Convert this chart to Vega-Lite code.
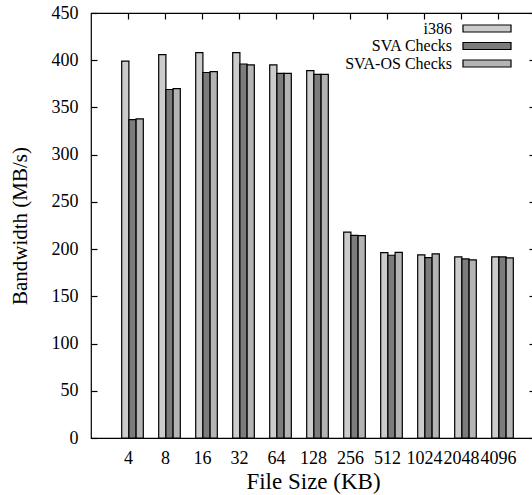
{
  "$schema": "https://vega.github.io/schema/vega-lite/v6.json",
  "autosize": {"type": "none"},
  "padding": {"left": 91, "top": 13, "right": 0, "bottom": 57},
  "width": 444,
  "height": 425,
  "background": "white",
  "config": {
    "font": "Liberation Serif",
    "view": {"stroke": "black", "strokeWidth": 1.2},
    "axis": {
      "labelFont": "Liberation Serif",
      "titleFont": "Liberation Serif",
      "labelFontSize": 18,
      "titleFontSize": 21,
      "titleFontWeight": "normal",
      "labelColor": "black",
      "titleColor": "black",
      "tickColor": "black",
      "tickWidth": 1.2,
      "domain": false,
      "grid": false
    }
  },
  "data": {
    "values": [
      {"size": "4", "series": "i386", "bw": 399},
      {"size": "4", "series": "SVA Checks", "bw": 337},
      {"size": "4", "series": "SVA-OS Checks", "bw": 338},
      {"size": "8", "series": "i386", "bw": 406},
      {"size": "8", "series": "SVA Checks", "bw": 369},
      {"size": "8", "series": "SVA-OS Checks", "bw": 370},
      {"size": "16", "series": "i386", "bw": 408},
      {"size": "16", "series": "SVA Checks", "bw": 387},
      {"size": "16", "series": "SVA-OS Checks", "bw": 388},
      {"size": "32", "series": "i386", "bw": 408},
      {"size": "32", "series": "SVA Checks", "bw": 396},
      {"size": "32", "series": "SVA-OS Checks", "bw": 395},
      {"size": "64", "series": "i386", "bw": 395},
      {"size": "64", "series": "SVA Checks", "bw": 386},
      {"size": "64", "series": "SVA-OS Checks", "bw": 386},
      {"size": "128", "series": "i386", "bw": 389},
      {"size": "128", "series": "SVA Checks", "bw": 385},
      {"size": "128", "series": "SVA-OS Checks", "bw": 385},
      {"size": "256", "series": "i386", "bw": 218},
      {"size": "256", "series": "SVA Checks", "bw": 214.5},
      {"size": "256", "series": "SVA-OS Checks", "bw": 214.3},
      {"size": "512", "series": "i386", "bw": 196.3},
      {"size": "512", "series": "SVA Checks", "bw": 193.5},
      {"size": "512", "series": "SVA-OS Checks", "bw": 196.6},
      {"size": "1024", "series": "i386", "bw": 194},
      {"size": "1024", "series": "SVA Checks", "bw": 191},
      {"size": "1024", "series": "SVA-OS Checks", "bw": 195},
      {"size": "2048", "series": "i386", "bw": 191.7},
      {"size": "2048", "series": "SVA Checks", "bw": 189.6},
      {"size": "2048", "series": "SVA-OS Checks", "bw": 188.6},
      {"size": "4096", "series": "i386", "bw": 191.7},
      {"size": "4096", "series": "SVA Checks", "bw": 191.7},
      {"size": "4096", "series": "SVA-OS Checks", "bw": 190.7}
    ]
  },
  "resolve": {"axis": {"x": "independent", "y": "independent"}},
  "layer": [
    {
      "mark": {"type": "bar", "stroke": "black", "strokeWidth": 1.2},
      "encoding": {
        "x": {
          "field": "size",
          "type": "nominal",
          "sort": null,
          "scale": {"paddingInner": 0.416, "paddingOuter": 0.708, "align": 0.586},
          "axis": {"orient": "bottom", "title": "File Size (KB)", "titleFontSize": 23, "labelAngle": 0, "ticks": false, "labelPadding": 11, "tickOffset": -4.5, "titlePadding": 3}
        },
        "xOffset": {"field": "series", "type": "nominal", "sort": ["i386", "SVA Checks", "SVA-OS Checks"]},
        "y": {
          "field": "bw",
          "type": "quantitative",
          "scale": {"domain": [0, 450], "nice": false},
          "axis": {"orient": "left", "title": "Bandwidth (MB/s)", "values": [0, 50, 100, 150, 200, 250, 300, 350, 400, 450], "ticks": true, "tickSize": 6, "offset": -6, "labelPadding": 13, "titlePadding": 21}
        },
        "fill": {
          "field": "series",
          "type": "nominal",
          "sort": ["i386", "SVA Checks", "SVA-OS Checks"],
          "scale": {"domain": ["i386", "SVA Checks", "SVA-OS Checks"], "range": ["#cccccc", "#7c7c7c", "#b4b4b4"]},
          "legend": {
            "title": null,
            "orient": "none",
            "legendX": 388,
            "legendY": 7.5,
            "padding": 0,
            "symbolType": "M-3.43,-0.5H3.43V0.5H-3.43Z",
            "symbolSize": 196,
            "symbolStrokeColor": "black",
            "symbolStrokeWidth": 1.2,
            "labelAlign": "right",
            "labelOffset": -43,
            "labelFont": "Liberation Serif",
            "labelFontSize": 16,
            "labelColor": "black",
            "rowPadding": 1.5
          }
        }
      }
    },
    {
      "mark": {"type": "tick", "opacity": 0},
      "encoding": {
        "x": {
          "field": "size",
          "type": "nominal",
          "sort": null,
          "axis": {"orient": "top", "labels": false, "title": null, "ticks": true, "tickSize": 6, "offset": -6, "tickOffset": -4.5}
        },
        "y": {
          "field": "bw",
          "type": "quantitative",
          "axis": {"orient": "right", "labels": false, "title": null, "values": [0, 50, 100, 150, 200, 250, 300, 350, 400, 450], "ticks": true, "tickSize": -6}
        }
      }
    }
  ]
}
